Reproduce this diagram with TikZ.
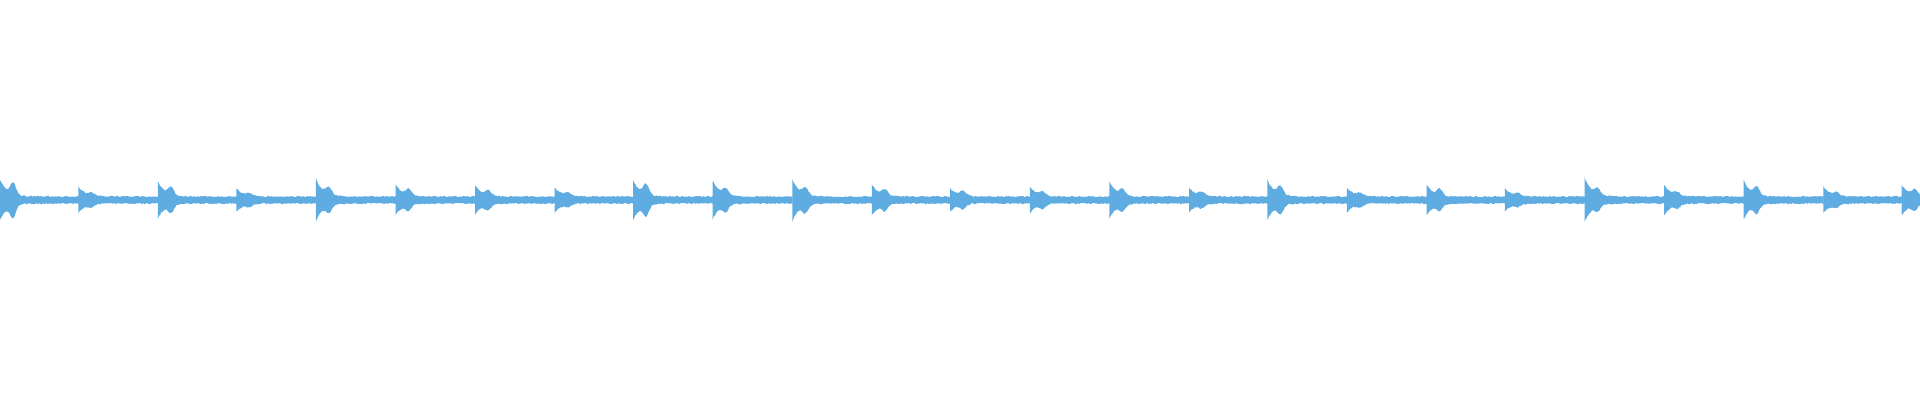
\documentclass[tikz,border=0pt]{standalone}
\definecolor{wave}{RGB}{94,172,226}
\begin{document}
\begin{tikzpicture}[x=1pt,y=1pt]
\useasboundingbox (0,0) rectangle (1920,400);
\pgfmathsetseed{7}
\foreach \o/\a/\b in {0/17/0.7,64/10/0.3,129/15/0.5,193/8/0.3,258/18/0.4,323/12/0.5,388/11/0.5,453/9/0.3,517/17/0.6,582/16/0.4,647/18/0.4,712/12/0.5,776/8/0.6,841/10/0.4,906/15/0.4,971/9/0.4,1035/17/0.5,1100/9/0.3,1165/12/0.5,1229/8/0.3,1294/19/0.3,1359/12/0.3,1424/16/0.5,1489/10/0.3,1553/12/0.5}{
  \pgfmathsetmacro{\xs}{\o*1.2245}
  \fill[wave] plot[domain=0:80,samples=70] ({\xs+\x},{200+2.8+\a*exp(-\x/7)+\b*\a*exp(-((\x-13)/4)^2)+1.3*rnd})
    -- plot[domain=80:0,samples=70] ({\xs+\x},{200-2.8-\a*exp(-\x/7)-\b*\a*exp(-((\x-13)/4)^2)-1.3*rnd}) -- cycle;
}
\end{tikzpicture}
\end{document}
